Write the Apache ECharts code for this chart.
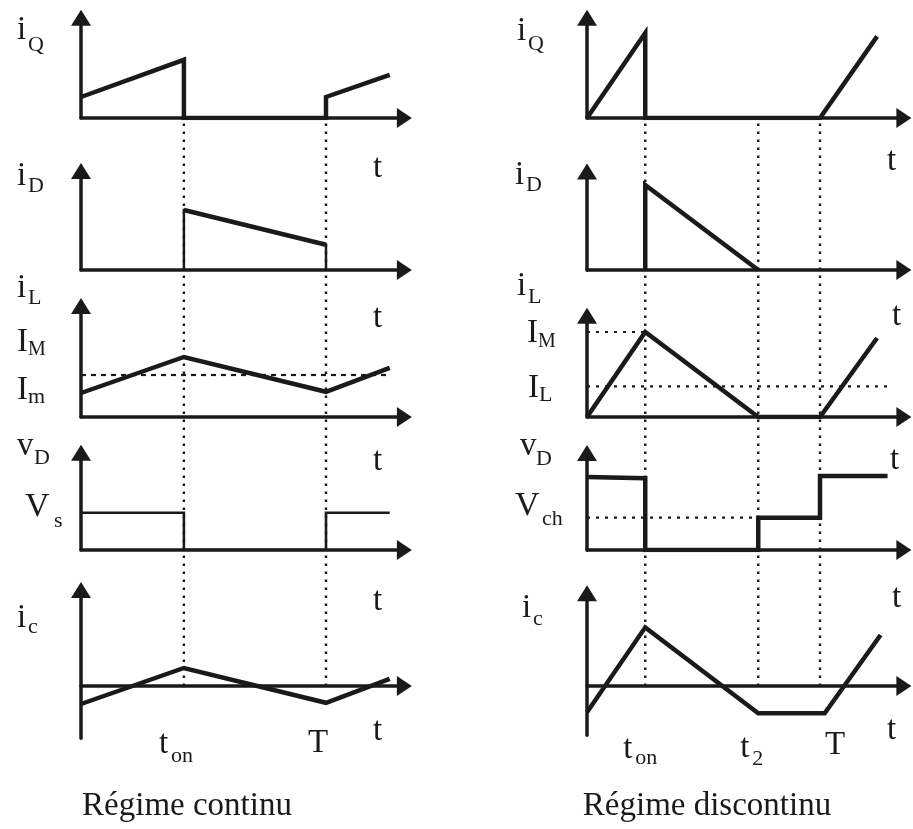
<!DOCTYPE html>
<html>
<head>
<meta charset="utf-8">
<script src="https://cdn.jsdelivr.net/npm/echarts@6/dist/echarts.min.js"></script>
<style>
  html, body { margin: 0; padding: 0; background: #ffffff; }
  #chart { width: 913px; height: 829px; }
</style>
</head>
<body>
<div id="chart"></div>
<script>
// Chopper waveforms: continuous vs discontinuous conduction.
// Time is expressed in units of the switching period T.

// ---- Régime continu ----
const contTon = 0.42;
const contT = 1;
const contIQ = [[0, 0.35], [0.42, 0.97], [0.42, 0], [1, 0], [1, 0.35], [1.26, 0.72]];
const contID = [[0.42, 0], [0.42, 1.0], [1, 0.42], [1, 0]];
const contIL = [[0, 0.4], [0.42, 1.0], [1, 0.42], [1.26, 0.82]];
const contILmean = 0.7;
const contILmeanEnd = 1.26;
const contVD = [[0, 0.62], [0.42, 0.62], [0.42, 0], [1, 0], [1, 0.62], [1.26, 0.62]];
const contIC = [[0, -0.3], [0.42, 0.3], [1, -0.28], [1.26, 0.12]];

// ---- Régime discontinu ----
const discTon = 0.25;
const discT2 = 0.735;
const discT = 1;
const discIQ = [[0, 0], [0.25, 1.0], [0.25, 0], [1, 0], [1.245, 0.96]];
const discID = [[0.25, 0], [0.25, 1.0], [0.735, 0]];
const discIL = [[0, 0], [0.25, 1.0], [0.735, 0], [1, 0], [1.245, 0.93]];
const discIM = 1.0;
const discILmean = 0.36;
const discILmeanEnd = 1.3;
const discVD = [[0, 0.86], [0.25, 0.845], [0.25, 0], [0.735, 0], [0.735, 0.38], [1, 0.38], [1, 0.87], [1.29, 0.87]];
const discVch = 0.38;
const discIC = [[0, -0.31], [0.25, 0.69], [0.735, -0.32], [1.02, -0.32], [1.26, 0.6]];

const INK = '#1a1a1a';
const FONT = '"Liberation Serif", "Times New Roman", serif';

// Column geometry: origin of the time axis, pixels per unit on each axis,
// and for each of the five stacked plots the pixel row of its zero line.
const columns = [
  { left: 81, ppuX: 245, xMax: 1.32, ppuY: 60, rows: [
    { axisY: 118, yMin: 0, yMax: 1.67 },
    { axisY: 270, yMin: 0, yMax: 1.65 },
    { axisY: 417, yMin: 0, yMax: 1.85 },
    { axisY: 550, yMin: 0, yMax: 1.62 },
    { axisY: 686, yMin: -0.87, yMax: 1.6 }
  ]},
  { left: 587, ppuX: 233, xMax: 1.36, ppuY: 85, rows: [
    { axisY: 118, yMin: 0, yMax: 1.18 },
    { axisY: 270, yMin: 0, yMax: 1.16 },
    { axisY: 417, yMin: 0, yMax: 1.19 },
    { axisY: 550, yMin: 0, yMax: 1.14 },
    { axisY: 686, yMin: -0.58, yMax: 1.09 }
  ]}
];
const guideTop = 118, guideBottom = 686;

const grids = [], xAxes = [], yAxes = [], series = [];

function axisLine(size) {
  return { show: true, onZero: true, symbol: ['none', 'triangle'], symbolSize: size,
           lineStyle: { color: INK, width: 3.5 } };
}

columns.forEach(function (col) {
  col.rows.forEach(function (r) {
    const gi = grids.length;
    grids.push({
      left: col.left, width: col.xMax * col.ppuX,
      top: r.axisY - r.yMax * col.ppuY, height: (r.yMax - r.yMin) * col.ppuY,
      containLabel: false, outerBoundsMode: 'none'
    });
    xAxes.push({ type: 'value', gridIndex: gi, min: 0, max: col.xMax,
      axisLine: axisLine([20, 15]), axisTick: { show: false },
      axisLabel: { show: false }, splitLine: { show: false } });
    yAxes.push({ type: 'value', gridIndex: gi, min: r.yMin, max: r.yMax,
      axisLine: axisLine([20, 16]), axisTick: { show: false },
      axisLabel: { show: false }, splitLine: { show: false } });
    r.grid = gi;
  });
});

// Full-height overlay grids carrying the dotted switching-instant guides.
columns.forEach(function (col) {
  const gi = grids.length;
  grids.push({ left: col.left, width: col.xMax * col.ppuX, top: guideTop,
               height: guideBottom - guideTop, containLabel: false, outerBoundsMode: 'none' });
  xAxes.push({ type: 'value', gridIndex: gi, min: 0, max: col.xMax, show: false });
  yAxes.push({ type: 'value', gridIndex: gi, min: 0, max: 1, show: false });
  col.guideGrid = gi;
});

function wave(col, row, data, width) {
  const g = columns[col].rows[row].grid;
  series.push({ type: 'line', xAxisIndex: g, yAxisIndex: g, data: data,
    showSymbol: false, symbol: 'none', silent: true, z: 4, animation: false,
    lineStyle: { color: INK, width: width, join: 'miter', cap: 'butt' } });
}
function level(col, row, value, from, to, dash) {
  const g = columns[col].rows[row].grid;
  series.push({ type: 'line', xAxisIndex: g, yAxisIndex: g,
    data: [[from, value], [to, value]], showSymbol: false, symbol: 'none', silent: true,
    z: 2, animation: false,
    lineStyle: { color: INK, width: 2.2, type: dash } });
}
function guide(col, t) {
  const g = columns[col].guideGrid;
  series.push({ type: 'line', xAxisIndex: g, yAxisIndex: g, data: [[t, 0], [t, 1]],
    showSymbol: false, symbol: 'none', silent: true, z: 1, animation: false,
    lineStyle: { color: INK, width: 2.4, type: [2.5, 5.5] } });
}

// Continuous conduction
guide(0, contTon); guide(0, contT);
wave(0, 0, contIQ, 4.5);
wave(0, 1, contID, 2.5);
wave(0, 1, contID.slice(1, 3), 4.5);
level(0, 2, contILmean, 0, contILmeanEnd, [5, 5]);
wave(0, 2, contIL, 4.5);
wave(0, 3, contVD, 2.6);
wave(0, 4, contIC, 4.5);

// Discontinuous conduction
guide(1, discTon); guide(1, discT2); guide(1, discT);
wave(1, 0, discIQ, 4.5);
wave(1, 1, discID, 4.5);
level(1, 2, discIM, 0, discTon, [3, 6]);
level(1, 2, discILmean, 0, discILmeanEnd, [3, 6]);
wave(1, 2, discIL, 4.5);
level(1, 3, discVch, 0, discT2, [3, 6]);
wave(1, 3, discVD, 4.5);
wave(1, 4, discIC, 4.5);

const chart = echarts.init(document.getElementById('chart'));
chart.setOption({
  animation: false,
  backgroundColor: '#ffffff',
  grid: grids, xAxis: xAxes, yAxis: yAxes, series: series
});

// Text: symbol letters with subscripts, time marks and captions.
function txt(x, baseline, s, size, align) {
  return { type: 'text', x: x, y: baseline - 0.34 * size, silent: true, z: 10,
    style: { text: s, font: size + 'px ' + FONT, fill: INK,
             align: align || 'left', verticalAlign: 'middle' } };
}
const M = 33, S = 22;
const texts = [
  // left column
  txt(17, 42, 'i', M), txt(28, 53, 'Q', S),
  txt(373, 180, 't', M),
  txt(17, 188, 'i', M), txt(28, 194, 'D', S),
  txt(17, 300, 'i', M), txt(28, 306, 'L', S),
  txt(373, 330, 't', M),
  txt(17, 354, 'I', M), txt(28, 357, 'M', 20),
  txt(17, 402, 'I', M), txt(28, 405, 'm', S),
  txt(17, 458, 'v', M), txt(34, 466, 'D', S),
  txt(373, 473, 't', M),
  txt(25, 519, 'V', 34), txt(54, 529, 's', S),
  txt(17, 630, 'i', M), txt(28, 635, 'c', S),
  txt(373, 613, 't', M),
  txt(373, 743, 't', M),
  // right column
  txt(517, 43, 'i', M), txt(528, 52, 'Q', S),
  txt(887, 173, 't', M),
  txt(515, 187, 'i', M), txt(526, 193, 'D', S),
  txt(517, 298, 'i', M), txt(528, 305, 'L', S),
  txt(892, 328, 't', M),
  txt(527, 345, 'I', M), txt(538, 349, 'M', 20),
  txt(528, 400, 'I', M), txt(539, 403, 'L', S),
  txt(520, 458, 'v', M), txt(536, 467, 'D', S),
  txt(890, 472, 't', M),
  txt(515, 518, 'V', 34), txt(542, 527, 'ch', S),
  txt(522, 620, 'i', M), txt(533, 627, 'c', S),
  txt(892, 610, 't', M),
  txt(887, 742, 't', M)
];

// Time-mark labels placed under the bottom plots from the axis scale.
const lb = columns[0].rows[4].grid, rb = columns[1].rows[4].grid;
const pLon = chart.convertToPixel({ gridIndex: lb }, [contTon, 0])[0];
const pLT = chart.convertToPixel({ gridIndex: lb }, [contT, 0])[0];
const pRon = chart.convertToPixel({ gridIndex: rb }, [discTon, 0])[0];
const pR2 = chart.convertToPixel({ gridIndex: rb }, [discT2, 0])[0];
const pRT = chart.convertToPixel({ gridIndex: rb }, [discT, 0])[0];
texts.push(
  txt(pLon - 25, 756, 't', M), txt(pLon - 13, 764, 'on', S),
  txt(pLT - 8, 755, 'T', M, 'center'),
  txt(pRon - 22, 761, 't', M), txt(pRon - 10, 766, 'on', S),
  txt(pR2 - 18, 760, 't', M), txt(pR2 - 6, 767, '2', S),
  txt(pRT + 15, 757, 'T', M, 'center'),
  txt(187, 818, 'Régime continu', 33, 'center'),
  txt(707, 818, 'Régime discontinu', 33, 'center')
);
chart.setOption({ graphic: { elements: texts } });
</script>
</body>
</html>
